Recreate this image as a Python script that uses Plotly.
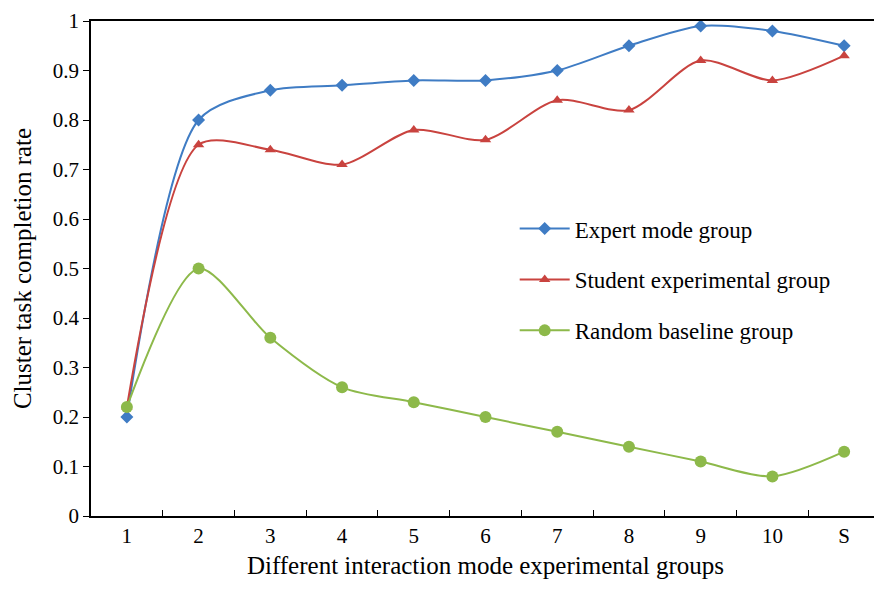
import plotly.graph_objects as go

categories = ["1", "2", "3", "4", "5", "6", "7", "8", "9", "10", "S"]
expert = [0.20, 0.80, 0.86, 0.87, 0.88, 0.88, 0.90, 0.95, 0.99, 0.98, 0.95]
student = [0.22, 0.75, 0.74, 0.71, 0.78, 0.76, 0.84, 0.82, 0.92, 0.88, 0.93]
random_base = [0.22, 0.50, 0.36, 0.26, 0.23, 0.20, 0.17, 0.14, 0.11, 0.08, 0.13]
y_ticks = [0, 0.1, 0.2, 0.3, 0.4, 0.5, 0.6, 0.7, 0.8, 0.9, 1]
y_ticktext = ["0", "0.1", "0.2", "0.3", "0.4", "0.5", "0.6", "0.7", "0.8", "0.9", "1"]

FONT = "Liberation Serif"

fig = go.Figure()
fig.add_trace(go.Scatter(
    x=categories, y=expert, name="Expert mode group", mode="lines+markers",
    line=dict(color="#3F7CC4", width=2, shape="spline", smoothing=0.8),
    marker=dict(symbol="diamond", size=10, color="#3F7CC4"),
    legendgroup="a"))
fig.add_trace(go.Scatter(
    x=categories, y=student, name="Student experimental group", mode="lines+markers",
    line=dict(color="#C9433F", width=2, shape="spline", smoothing=0.8),
    marker=dict(symbol="triangle-up", size=10, color="#C9433F"),
    legendgroup="b"))
fig.add_trace(go.Scatter(
    x=categories, y=random_base, name="Random baseline group", mode="lines+markers",
    line=dict(color="#8DB94A", width=2, shape="spline", smoothing=0.8),
    marker=dict(symbol="circle", size=12, color="#8DB94A"),
    legendgroup="c"))

fig.update_layout(
    width=882, height=593,
    margin=dict(l=83, r=10, t=13, b=85),
    paper_bgcolor="white", plot_bgcolor="white",
    font=dict(family=FONT, size=21, color="black"),
    showlegend=True,
    legend=dict(x=0.537, y=0.624, xanchor="left", yanchor="top",
                font=dict(family=FONT, size=23, color="black"),
                tracegroupgap=18, traceorder="grouped",
                bgcolor="rgba(0,0,0,0)", itemwidth=50),
    xaxis=dict(type="category", range=[-0.5, 10.5], showline=True, linecolor="black",
               linewidth=1.5, mirror=True, ticks="inside", tickson="boundaries",
               ticklen=6, tickcolor="black", showgrid=False, zeroline=False,
               automargin=False,
               tickfont=dict(family=FONT, size=21),
               title=dict(text="Different interaction mode experimental groups",
                          font=dict(family=FONT, size=25), standoff=10)),
    yaxis=dict(range=[0, 1], tickvals=y_ticks, ticktext=y_ticktext, showline=True,
               linecolor="black", linewidth=1.5, mirror=True, ticks="outside",
               ticklen=6, tickcolor="black", showgrid=False, zeroline=False,
               automargin=False, ticklabeloverflow="allow",
               tickfont=dict(family=FONT, size=21),
               title=dict(text="Cluster task completion rate",
                          font=dict(family=FONT, size=25), standoff=14)),
)

fig.write_html("out.html")
